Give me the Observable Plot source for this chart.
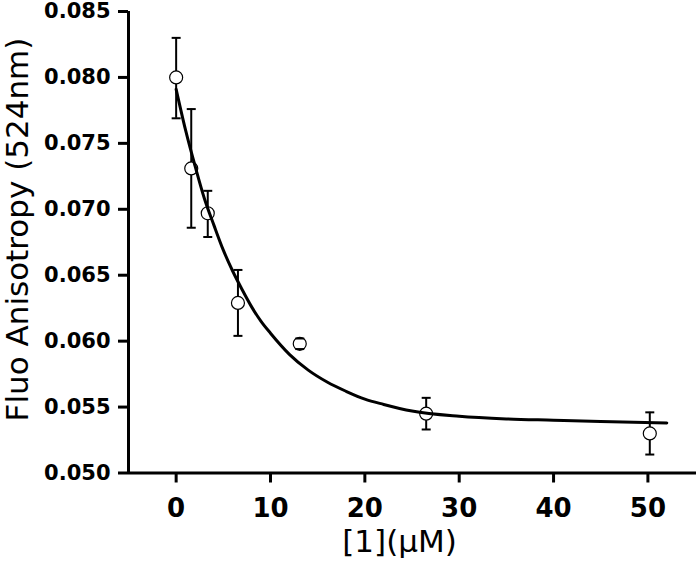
<!DOCTYPE html>
<html>
<head>
<meta charset="utf-8">
<script src="https://cdn.jsdelivr.net/npm/d3@7"></script>
<script src="https://cdn.jsdelivr.net/npm/@observablehq/plot@0.6"></script>
<style>
  html, body { margin: 0; padding: 0; background: white; }
</style>
</head>
<body>
<div id="chart"></div>
<script>
// Measured data points: concentration (µM), anisotropy, error bar ends
const conc = [0, 1.6, 3.35, 6.55, 13.1, 26.5, 50.2];
const aniso = [0.0800, 0.0731, 0.0697, 0.0629, 0.0598, 0.0545, 0.0530];
const errLow = [0.0769, 0.0686, 0.0679, 0.0604, 0.0594, 0.0533, 0.0514];
const errHigh = [0.0830, 0.0776, 0.0714, 0.0654, 0.0602, 0.0557, 0.0546];

// Fitted curve
const fitX = [0, 1, 2, 3, 4, 5, 6, 7, 8, 9, 10, 12, 14, 16, 18, 20, 22, 25, 30, 35, 40, 45, 52];
const fitY = [0.0791, 0.0760, 0.0733, 0.0708, 0.0688, 0.0669, 0.0653, 0.0639, 0.0626, 0.0615, 0.0606,
              0.0590, 0.0578, 0.0569, 0.0562, 0.0556, 0.0552, 0.0547, 0.0543, 0.0541, 0.0540, 0.0539, 0.0538];

const xTicks = [0, 10, 20, 30, 40, 50];
const yTicks = [0.050, 0.055, 0.060, 0.065, 0.070, 0.075, 0.080, 0.085];
const xDomain = [-5.05, 55.15];
const yDomain = [0.050, 0.085];
const xTitle = "[1](μM)";
const yTitle = "Fluo Anisotropy (524nm)";

const points = conc.map((x, i) => ({x, y: aniso[i], lo: errLow[i], hi: errHigh[i]}));
const fit = fitX.map((x, i) => ({x, y: fitY[i]}));

const capSymbol = {
  draw(ctx, size) {
    const r = Math.sqrt(size / Math.PI);
    ctx.moveTo(-r, 0);
    ctx.lineTo(r, 0);
  }
};

const chart = Plot.plot({
  width: 697,
  height: 567,
  marginLeft: 128,
  marginRight: 1,
  marginTop: 11,
  marginBottom: 94.5,
  x: {domain: xDomain},
  y: {domain: yDomain},
  style: {fontFamily: "DejaVu Sans", color: "black", background: "white"},
  marks: [
    Plot.axisY({ticks: yTicks, tickSize: 10, tickPadding: 8, strokeWidth: 3, fontSize: 21, fontWeight: "bold", tickFormat: d3.format(".3f"), label: null}),
    Plot.axisX({ticks: xTicks, tickSize: 10, tickPadding: 16, strokeWidth: 3, fontSize: 26, fontWeight: "bold", tickFormat: d3.format("d"), label: null}),
    Plot.ruleX([xDomain[0]], {stroke: "black", strokeWidth: 3}),
    Plot.ruleY([yDomain[0]], {stroke: "black", strokeWidth: 3}),
    Plot.ruleX(points, {x: "x", y1: "lo", y2: "hi", stroke: "black", strokeWidth: 2}),
    Plot.dot(points, {x: "x", y: "y", r: 6.5, fill: "white", stroke: "black", strokeWidth: 1.2}),
    Plot.dot(points, {x: "x", y: "lo", r: 4.5, symbol: capSymbol, fill: "none", stroke: "black", strokeWidth: 2}),
    Plot.dot(points, {x: "x", y: "hi", r: 4.5, symbol: capSymbol, fill: "none", stroke: "black", strokeWidth: 2}),
    Plot.line(fit, {x: "x", y: "y", curve: "monotone-x", stroke: "black", strokeWidth: 3}),
    Plot.text([xTitle], {frameAnchor: "bottom", textAnchor: "middle", dx: -13, dy: 79, fontSize: 31, fill: "black"}),
    Plot.text([yTitle], {frameAnchor: "left", textAnchor: "middle", rotate: -90, dx: -110, dy: -12.75, fontSize: 31, fill: "black"})
  ]
});

document.getElementById("chart").appendChild(chart);
</script>
</body>
</html>
